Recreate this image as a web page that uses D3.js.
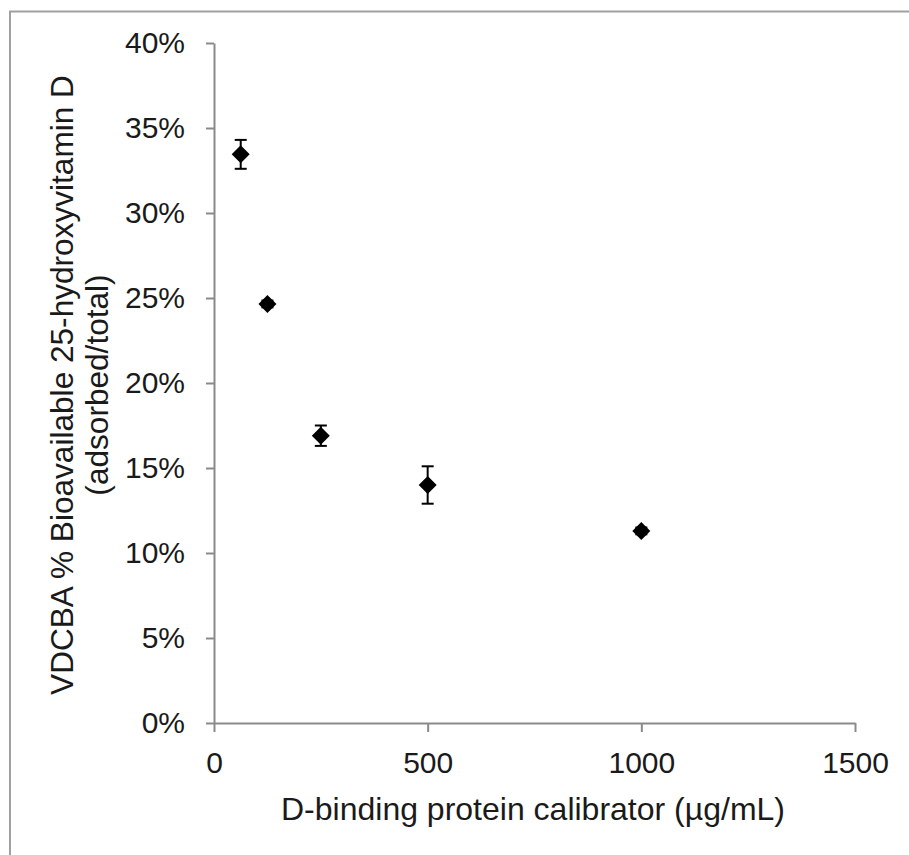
<!DOCTYPE html>
<html>
<head>
<meta charset="utf-8">
<script src="https://cdn.jsdelivr.net/npm/d3@7"></script>
<style>
  body { margin: 0; background: #fff; }
  svg { display: block; font-family: "Liberation Sans", Arial, sans-serif; }
</style>
</head>
<body>
<svg id="chart" width="909" height="855"></svg>
<script>
// data
var conc = [62.5, 125, 250, 500, 1000];          // ug/mL
var pct = [33.45, 24.65, 16.9, 14.0, 11.3];      // % bioavailable
var err = [0.85, 0.2, 0.6, 1.1, 0.2];            // +/- error
var xTicks = [0, 500, 1000, 1500];
var yTicks = [0, 5, 10, 15, 20, 25, 30, 35, 40];

var svg = d3.select("#chart");

// frame lines (top + left only)
svg.append("path")
	.attr("d", "M10,855V11.5H909")
	.attr("fill", "none")
	.attr("stroke", "#a0a0a0")
	.attr("stroke-width", 2);

var x = d3.scaleLinear().domain([0, 1500]).range([214, 855]);
var y = d3.scaleLinear().domain([0, 40]).range([723, 43]);

var axisColor = "#8a8a8a";

var gx = svg.append("g")
	.attr("transform", "translate(0," + y(0) + ")")
	.call(d3.axisBottom(x).tickValues(xTicks).tickSize(9).tickSizeOuter(0).tickPadding(20)
		.tickFormat(d3.format("d")));

var gy = svg.append("g")
	.attr("transform", "translate(" + x(0) + ",0)")
	.call(d3.axisLeft(y).tickValues(yTicks).tickSize(8).tickSizeOuter(0).tickPadding(21)
		.tickFormat(function (d) { return d + "%"; }));

[gx, gy].forEach(function (g) {
	g.select(".domain").attr("stroke", axisColor).attr("stroke-width", 2);
	g.selectAll(".tick line").attr("stroke", axisColor).attr("stroke-width", 2);
	g.selectAll(".tick text")
		.attr("fill", "#1a1a1a")
		.attr("font-size", 30)
		.attr("font-family", "Liberation Sans, Arial, sans-serif");
});

// error bars
var eb = svg.append("g").attr("stroke", "#000").attr("stroke-width", 2);
conc.forEach(function (c, i) {
	var cx = x(c);
	var y1 = y(pct[i] + err[i]);
	var y2 = y(pct[i] - err[i]);
	eb.append("line").attr("x1", cx).attr("x2", cx).attr("y1", y1).attr("y2", y2);
	eb.append("line").attr("x1", cx - 6).attr("x2", cx + 6).attr("y1", y1).attr("y2", y1);
	eb.append("line").attr("x1", cx - 6).attr("x2", cx + 6).attr("y1", y2).attr("y2", y2);
});

// diamond markers
svg.append("g").selectAll("path")
	.data(conc)
	.join("path")
	.attr("transform", function (d, i) { return "translate(" + x(d) + "," + y(pct[i]) + ")"; })
	.attr("d", "M0,-9L9,0L0,9L-9,0Z")
	.attr("fill", "#000");

// axis titles
svg.append("text")
	.attr("x", 533)
	.attr("y", 820)
	.attr("text-anchor", "middle")
	.attr("font-size", 32)
	.attr("fill", "#1a1a1a")
	.text("D-binding protein calibrator (\u00b5g/mL)");

var yt = svg.append("text")
	.attr("transform", "translate(0," + 385 + ") rotate(-90)")
	.attr("text-anchor", "middle")
	.attr("font-size", 31.6)
	.attr("fill", "#1a1a1a");
yt.append("tspan").attr("x", 0).attr("y", 73).text("VDCBA % Bioavailable 25-hydroxyvitamin D");
yt.append("tspan").attr("x", 0).attr("y", 108).text("(adsorbed/total)");
</script>
</body>
</html>
